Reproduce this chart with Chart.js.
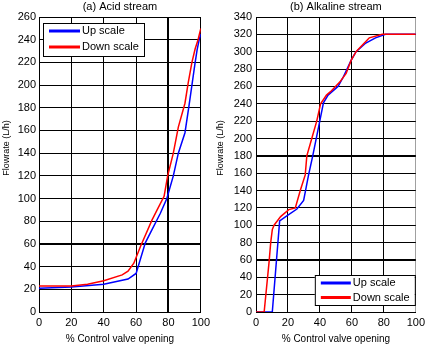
<!DOCTYPE html>
<html>
<head>
<meta charset="utf-8">
<script src="https://cdn.jsdelivr.net/npm/chart.js@4.4.1/dist/chart.umd.min.js"></script>
<style>
  html, body { margin: 0; padding: 0; background: #fff; }
  .panel { position: absolute; top: 0; height: 350px; }
  #leftPanel { left: 0; width: 214px; }
  #rightPanel { left: 214px; width: 215px; }
</style>
</head>
<body>
<div class="panel" id="leftPanel"><canvas id="acidChart"></canvas></div>
<div class="panel" id="rightPanel"><canvas id="alkChart"></canvas></div>
<script>
// (a) Acid stream
const acidUpPct = [0, 20, 40, 55, 60, 65.7, 70, 75, 79, 83, 86.1, 90.2, 92.5, 94.7, 96.3, 97.7, 99, 100];
const acidUpFlow = [21, 22, 24.5, 29, 34, 61, 73, 87, 100, 120, 140, 158, 180, 202, 218, 231, 240, 245];
const acidDownPct = [0, 20, 30, 40, 51.4, 55, 58.6, 62.7, 69.8, 73, 77.3, 79.5, 83, 86.1, 90.2, 92.2, 94.5, 96.5, 98.3, 100];
const acidDownFlow = [23, 23, 24.5, 27.5, 32.7, 36, 43, 57.7, 81, 90, 102, 120, 140, 163, 184, 202, 220, 232, 240, 250];

// (b) Alkaline stream
const alkUpPct = [0, 10.2, 14.8, 19.5, 25.6, 29.8, 32.9, 35.5, 39.9, 42.2, 45.1, 51.3, 54.4, 59.5, 62.6, 68.7, 74.8, 81, 100];
const alkUpFlow = [0, 0, 105, 111, 118.7, 128.6, 158, 180, 220, 241, 250, 260, 270, 290, 300, 310, 316, 320, 320];
const alkDownPct = [0, 5.1, 8.2, 9.2, 10.2, 11.3, 15.4, 20.5, 24.6, 27.7, 30.8, 31.8, 34.9, 38, 40.4, 44.1, 47.2, 52.4, 56.4, 59.5, 62.6, 67.8, 70.9, 79, 100];
const alkDownFlow = [0, 0, 58, 80, 95, 100, 110, 118, 120, 140, 158, 180, 200, 220, 240, 250, 255, 265, 275, 290, 300, 310, 316, 320, 320];

const seriesLabels = ['Up scale', 'Down scale'];
const xTicksMax = 100;

const FONT = "'Liberation Sans', Arial, sans-serif";

function toPoints(xs, ys) {
    return xs.map((x, i) => ({ x: x, y: ys[i] }));
}

// legend box drawn inside the plot, like the MATLAB one
function insideLegend(where) {
    return {
        id: 'insideLegend',
        afterDraw(chart) {
            const ctx = chart.ctx;
            const a = chart.chartArea;
            let bx, by;
            const bw = where.w, bh = where.h;
            if (where.pos === 'topleft') { bx = a.left + 4; by = a.top + 6; }
            else { bx = a.right - 1 - bw; by = a.bottom - 7 - bh; }
            ctx.save();
            ctx.fillStyle = '#fff';
            ctx.fillRect(bx, by, bw, bh);
            ctx.strokeStyle = '#000';
            ctx.lineWidth = 1;
            ctx.strokeRect(bx + 0.5, by + 0.5, bw, bh);
            ctx.font = '11px ' + FONT;
            ctx.textBaseline = 'middle';
            const sets = [chart.data.datasets[0], chart.data.datasets[1]];
            sets.forEach((ds, i) => {
                const ly = by + where.row0 + i * where.rowGap;
                ctx.strokeStyle = ds.borderColor;
                ctx.lineWidth = 3;
                ctx.beginPath();
                ctx.moveTo(bx + 6, ly);
                ctx.lineTo(bx + 6 + where.lineLen, ly);
                ctx.stroke();
                ctx.fillStyle = '#000';
                ctx.fillText(ds.label, bx + 8 + where.lineLen, ly);
            });
            ctx.restore();
        }
    };
}

function makeChart(canvas, opts) {
    return new Chart(canvas, {
        type: 'scatter',
        data: {
            datasets: [{
                label: seriesLabels[0],
                data: toPoints(opts.upX, opts.upY),
                borderColor: '#0000ff',
                showLine: true,
                borderWidth: 1.5,
                pointRadius: 0,
                order: 1
            }, {
                label: seriesLabels[1],
                data: toPoints(opts.downX, opts.downY),
                borderColor: '#ff0000',
                showLine: true,
                borderWidth: 1.5,
                pointRadius: 0,
                order: 0
            }]
        },
        options: {
            responsive: true,
            maintainAspectRatio: false,
            animation: false,
            layout: { padding: { top: 17, right: 11, bottom: 3, left: 0 } },
            plugins: {
                legend: { display: false },
                tooltip: { enabled: false },
                title: { display: false }
            },
            scales: {
                x: {
                    type: 'linear',
                    min: 0,
                    max: xTicksMax,
                    afterFit: (s) => { s.height = 35; },
                    ticks: { stepSize: 20, color: '#000', font: { family: FONT, size: 11 }, padding: 4 },
                    grid: {
                        drawTicks: false,
                        color: (c) => (opts.grayRight && c.tick && c.tick.value === 100) ? '#a0a0a0' : '#000',
                        lineWidth: (c) => (c.tick && opts.thickX.includes(c.tick.value)) ? 2 : 1
                    },
                    border: { color: '#000' },
                    title: { display: true, text: '% Control valve opening', color: '#000', font: { family: FONT, size: 10 }, padding: { top: 2, bottom: 2 } }
                },
                y: {
                    min: 0,
                    max: opts.yMax,
                    afterFit: (s) => { s.width = opts.yWidth; },
                    ticks: { stepSize: 20, color: '#000', font: { family: FONT, size: 11 }, padding: opts.tickPad },
                    grid: {
                        drawTicks: false,
                        color: '#000',
                        lineWidth: (c) => (c.tick && opts.thickY.includes(c.tick.value)) ? 2 : 1
                    },
                    border: { color: '#000' },
                    title: { display: false }
                }
            }
        },
        plugins: [{
            id: 'panelText',
            afterDraw(chart) {
                const ctx = chart.ctx;
                const a = chart.chartArea;
                ctx.save();
                ctx.fillStyle = '#000';
                ctx.textAlign = 'center';
                ctx.textBaseline = 'middle';
                ctx.font = '11px ' + FONT;
                ctx.fillText(opts.title, (a.left + a.right) / 2, 7);
                // y axis title
                ctx.translate(opts.yTitleX, 148);
                ctx.rotate(-Math.PI / 2);
                ctx.font = '9px ' + FONT;
                ctx.fillText('Flowrate (L/h)', 0, 0);
                ctx.restore();
            }
        }, insideLegend(opts.legend)]
    });
}

makeChart(document.getElementById('acidChart'), {
    title: '(a) Acid stream',
    upX: acidUpPct, upY: acidUpFlow, downX: acidDownPct, downY: acidDownFlow,
    yMax: 260, yWidth: 39, tickPad: 3, yTitleX: 7,
    thickX: [80], thickY: [60], grayRight: false,
    legend: { pos: 'topleft', w: 101, h: 33, row0: 8, rowGap: 16, lineLen: 31 }
});

makeChart(document.getElementById('alkChart'), {
    title: '(b) Alkaline stream',
    upX: alkUpPct, upY: alkUpFlow, downX: alkDownPct, downY: alkDownFlow,
    yMax: 340, yWidth: 42, tickPad: 4, yTitleX: 7,
    thickX: [], thickY: [60, 180], grayRight: true,
    legend: { pos: 'bottomright', w: 100, h: 30, row0: 8, rowGap: 14.5, lineLen: 30 }
});
</script>
</body>
</html>
